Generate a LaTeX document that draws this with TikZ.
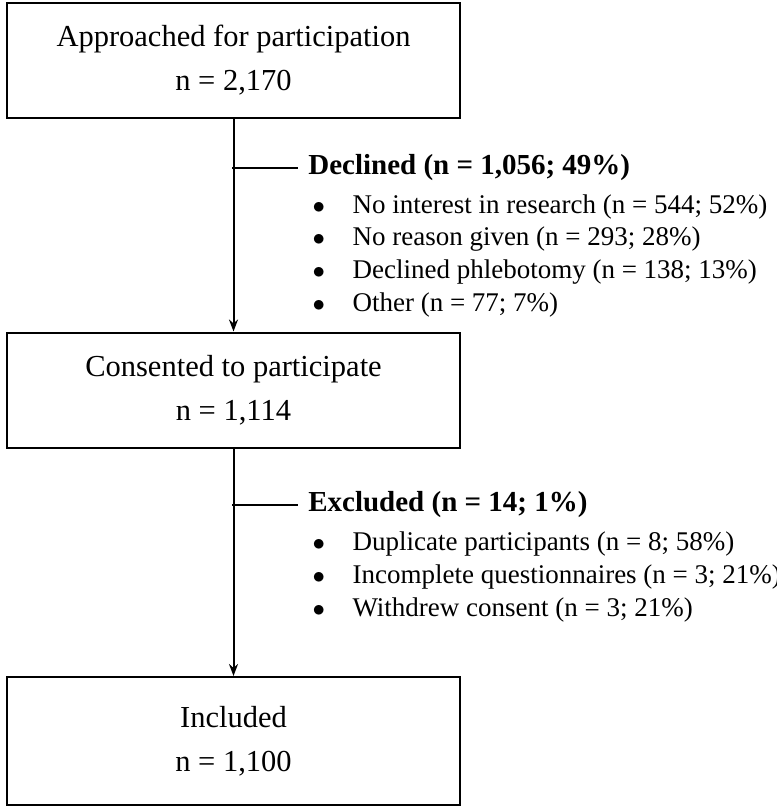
\documentclass[tikz,border=0pt]{standalone}
\usepackage{fontspec}
\setmainfont{Liberation Serif}
\usetikzlibrary{arrows.meta}
\begin{document}
\begin{tikzpicture}[x=1pt,y=-1pt,>=stealth,
  stage/.style={draw,line width=2pt,minimum width=453pt,minimum height=115pt,align=center,font=\fontsize{30.5}{44}\selectfont},
  head/.style={anchor=west,font=\fontsize{29}{34}\selectfont\bfseries},
  item/.style={anchor=west,font=\fontsize{27}{30}\selectfont}]
\useasboundingbox (0,0) rectangle (776,810);
\node[stage] (appr) at (233.5,60.5) {Approached for participation\\n = 2,170};
\node[stage] (cons) at (233.5,390) {Consented to participate\\n = 1,114};
\node[stage,minimum height=128pt] (incl) at (233.5,741) {Included\\n = 1,100};
\draw[-{Stealth[length=12pt,width=9pt]},line width=2pt] (appr.south) -- (cons.north);
\draw[-{Stealth[length=12pt,width=9pt]},line width=2pt] (cons.south) -- (incl.north);
\coordinate (dec) at (232,168);
\coordinate (exc) at (232,505);
\draw[line width=2pt] (dec) -- ++(66,0) node[head,xshift=6pt] (dech) {Declined (n = 1,056; 49\%)};
\draw[line width=2pt] (exc) -- ++(66,0) node[head,xshift=6pt] (exch) {Excluded (n = 14; 1\%)};
\foreach \t [count=\i] in {No interest in research (n = 544; 52\%),No reason given (n = 293; 28\%),Declined phlebotomy (n = 138; 13\%),Other (n = 77; 7\%)}
  \node[item] (d\i) at (303,174+32.7*\i) {\makebox[46pt][l]{\hspace{6pt}$\bullet$}\t};
\foreach \t [count=\i] in {Duplicate participants (n = 8; 58\%),Incomplete questionnaires (n = 3; 21\%),Withdrew consent (n = 3; 21\%)}
  \node[item] (e\i) at (303,511+33*\i) {\makebox[46pt][l]{\hspace{6pt}$\bullet$}\t};
\end{tikzpicture}
\end{document}
